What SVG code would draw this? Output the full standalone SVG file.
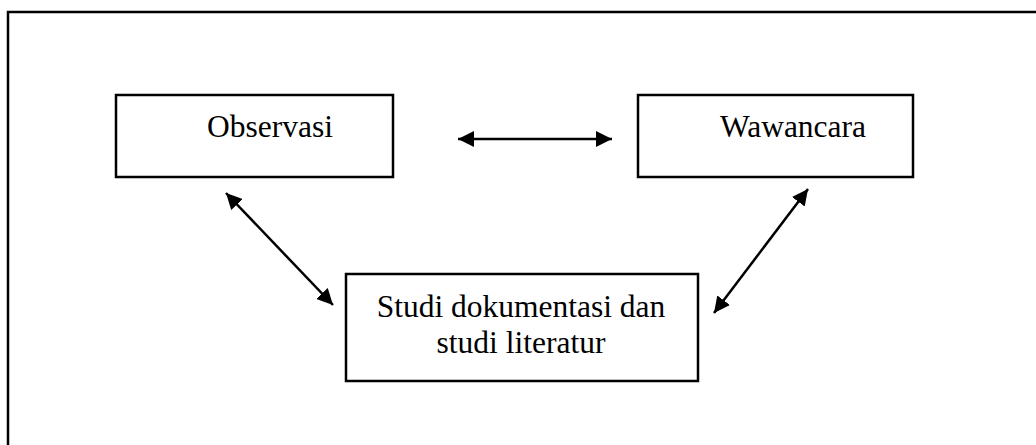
<svg xmlns="http://www.w3.org/2000/svg" width="1036" height="445" viewBox="0 0 1036 445">
  <defs>
    <style>
      .box { fill: #fff; stroke: #000; stroke-width: 2.5; }
      .lbl { font-family: "Liberation Serif", "Times New Roman", serif; font-size: 31.5px; fill: #000; }
      .conn { stroke: #000; stroke-width: 2.5; fill: none; marker-start: url(#ah); marker-end: url(#ah); }
    </style>
    <marker id="ah" viewBox="0 0 10 10" refX="10" refY="5" markerWidth="16" markerHeight="16" markerUnits="userSpaceOnUse" orient="auto-start-reverse">
      <path d="M0,0 L10,5 L0,10 z" fill="#000"/>
    </marker>
  </defs>
  <rect width="1036" height="445" fill="#fff"/>
  <rect x="8" y="12" width="1040" height="450" fill="none" stroke="#000" stroke-width="2.5"/>
  <g id="observasi">
    <rect class="box" x="116" y="95" width="277" height="82"/>
    <text class="lbl" x="270" y="137" text-anchor="middle">Observasi</text>
  </g>
  <g id="wawancara">
    <rect class="box" x="638" y="95" width="275" height="82"/>
    <text class="lbl" x="793" y="137" text-anchor="middle">Wawancara</text>
  </g>
  <g id="studi">
    <rect class="box" x="346" y="274" width="352" height="107"/>
    <text class="lbl" x="521" y="317" text-anchor="middle">Studi dokumentasi dan</text>
    <text class="lbl" x="521" y="353" text-anchor="middle">studi literatur</text>
  </g>
  <g id="connectors">
    <line class="conn" x1="458" y1="139" x2="612" y2="139"/>
    <line class="conn" x1="226" y1="193" x2="333" y2="305"/>
    <line class="conn" x1="808" y1="189" x2="714" y2="313"/>
  </g>
</svg>
